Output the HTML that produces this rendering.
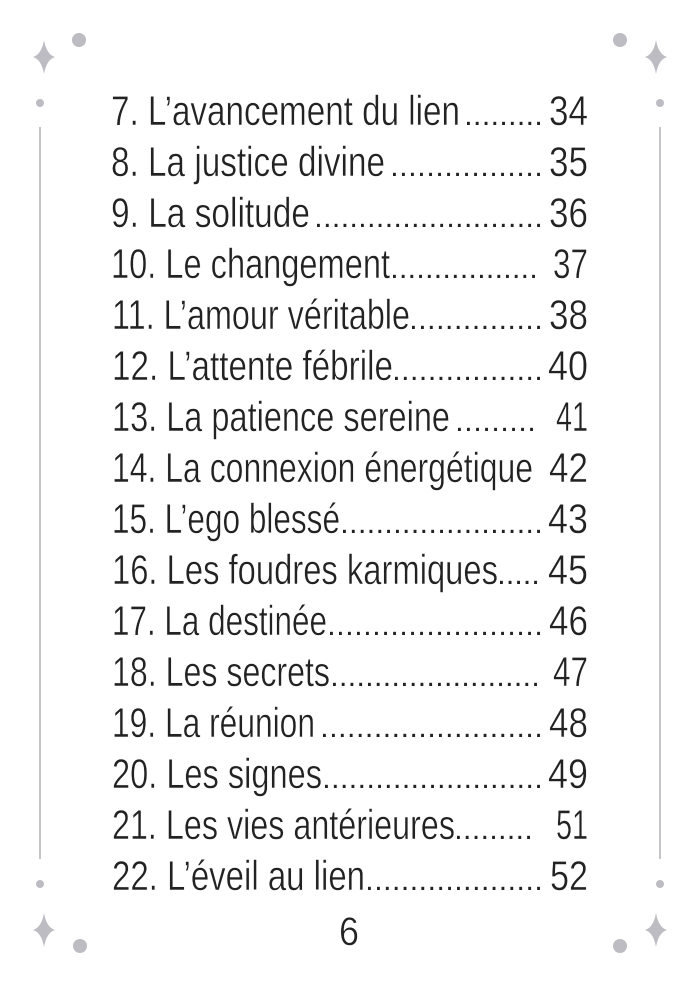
<!DOCTYPE html>
<html>
<head>
<meta charset="utf-8">
<style>
html,body{margin:0;padding:0;background:#fff;}
body{width:700px;height:989px;overflow:hidden;}
svg{display:block;}
.t{font-family:"Liberation Sans",sans-serif;font-size:42px;fill:#222;stroke:#fff;stroke-width:0.45px;}
.d{font-family:"Liberation Sans",sans-serif;font-size:30px;fill:#222;}
</style>
</head>
<body>
<svg width="700" height="989" viewBox="0 0 700 989" xmlns="http://www.w3.org/2000/svg">
<g fill="#bcbcc2">
  <path d="M44 40 Q46.5 54.5 55 57 Q46.5 59.5 44 74 Q41.5 59.5 33 57 Q41.5 54.5 44 40Z"/>
  <circle cx="79" cy="40" r="7"/>
  <circle cx="40" cy="103" r="4"/>
  <path d="M656 40 Q658.5 54.5 667 57 Q658.5 59.5 656 74 Q653.5 59.5 645 57 Q653.5 54.5 656 40Z"/>
  <circle cx="620" cy="40" r="7"/>
  <circle cx="660" cy="103" r="4"/>
  <path d="M44 913 Q46.5 927.5 55 930 Q46.5 932.5 44 947 Q41.5 932.5 33 930 Q41.5 927.5 44 913Z"/>
  <circle cx="80" cy="946" r="7"/>
  <circle cx="40" cy="884" r="4"/>
  <path d="M656 913 Q658.5 927.5 667 930 Q658.5 932.5 656 947 Q653.5 932.5 645 930 Q653.5 927.5 656 913Z"/>
  <circle cx="620" cy="946" r="7"/>
  <circle cx="660" cy="884" r="4"/>
</g>
<rect x="39" y="127" width="2" height="732" fill="#c4c4c8"/>
<rect x="659" y="127" width="2" height="732" fill="#c4c4c8"/>

<g class="t">
<text x="111" y="125" textLength="349" lengthAdjust="spacingAndGlyphs">7. L’avancement du lien</text>
<text x="111" y="176" textLength="274" lengthAdjust="spacingAndGlyphs">8. La justice divine</text>
<text x="111" y="227" textLength="199" lengthAdjust="spacingAndGlyphs">9. La solitude</text>
<text x="111" y="278" textLength="279" lengthAdjust="spacingAndGlyphs">10. Le changement</text>
<text x="112" y="329" textLength="298" lengthAdjust="spacingAndGlyphs">11. L’amour véritable</text>
<text x="112" y="380" textLength="281" lengthAdjust="spacingAndGlyphs">12. L’attente fébrile</text>
<text x="112" y="431" textLength="338" lengthAdjust="spacingAndGlyphs">13. La patience sereine</text>
<text x="112" y="482" textLength="421" lengthAdjust="spacingAndGlyphs">14. La connexion énergétique</text>
<text x="112" y="533" textLength="228" lengthAdjust="spacingAndGlyphs">15. L’ego blessé</text>
<text x="112" y="584" textLength="386" lengthAdjust="spacingAndGlyphs">16. Les foudres karmiques</text>
<text x="112" y="635" textLength="215" lengthAdjust="spacingAndGlyphs">17. La destinée</text>
<text x="112" y="686" textLength="218" lengthAdjust="spacingAndGlyphs">18. Les secrets</text>
<text x="112" y="737" textLength="203" lengthAdjust="spacingAndGlyphs">19. La réunion</text>
<text x="112" y="788" textLength="210" lengthAdjust="spacingAndGlyphs">20. Les signes</text>
<text x="112" y="839" textLength="343" lengthAdjust="spacingAndGlyphs">21. Les vies antérieures</text>
<text x="112" y="890" textLength="253" lengthAdjust="spacingAndGlyphs">22. L’éveil au lien</text>
</g>

<g class="t" text-anchor="end">
<text x="588" y="125" textLength="39" lengthAdjust="spacingAndGlyphs">34</text>
<text x="588" y="176" textLength="39" lengthAdjust="spacingAndGlyphs">35</text>
<text x="588" y="227" textLength="39" lengthAdjust="spacingAndGlyphs">36</text>
<text x="588" y="278" textLength="35" lengthAdjust="spacingAndGlyphs">37</text>
<text x="588" y="329" textLength="39" lengthAdjust="spacingAndGlyphs">38</text>
<text x="588" y="380" textLength="40" lengthAdjust="spacingAndGlyphs">40</text>
<text x="588" y="431" textLength="32" lengthAdjust="spacingAndGlyphs">41</text>
<text x="588" y="482" textLength="39" lengthAdjust="spacingAndGlyphs">42</text>
<text x="588" y="533" textLength="40" lengthAdjust="spacingAndGlyphs">43</text>
<text x="588" y="584" textLength="40" lengthAdjust="spacingAndGlyphs">45</text>
<text x="588" y="635" textLength="39" lengthAdjust="spacingAndGlyphs">46</text>
<text x="588" y="686" textLength="35" lengthAdjust="spacingAndGlyphs">47</text>
<text x="588" y="737" textLength="39" lengthAdjust="spacingAndGlyphs">48</text>
<text x="588" y="788" textLength="40" lengthAdjust="spacingAndGlyphs">49</text>
<text x="588" y="839" textLength="32" lengthAdjust="spacingAndGlyphs">51</text>
<text x="588" y="890" textLength="38" lengthAdjust="spacingAndGlyphs">52</text>
</g>

<g class="d">
<text x="464.3" y="125" textLength="78.4" lengthAdjust="spacing">.........</text>
<text x="390.3" y="176" textLength="152.4" lengthAdjust="spacing">.................</text>
<text x="314.3" y="227" textLength="228.4" lengthAdjust="spacing">..........................</text>
<text x="390.3" y="278" textLength="147.4" lengthAdjust="spacing">.................</text>
<text x="409.3" y="329" textLength="133.4" lengthAdjust="spacing">...............</text>
<text x="392.3" y="380" textLength="150.4" lengthAdjust="spacing">.................</text>
<text x="455.3" y="431" textLength="80.4" lengthAdjust="spacing">.........</text>
<text x="340.3" y="533" textLength="202.4" lengthAdjust="spacing">.......................</text>
<text x="497.3" y="584" textLength="42.4" lengthAdjust="spacing">.....</text>
<text x="327.3" y="635" textLength="215.4" lengthAdjust="spacing">........................</text>
<text x="330.3" y="686" textLength="209.4" lengthAdjust="spacing">........................</text>
<text x="320.3" y="737" textLength="222.4" lengthAdjust="spacing">.........................</text>
<text x="322.3" y="788" textLength="220.4" lengthAdjust="spacing">.........................</text>
<text x="454.3" y="839" textLength="78.4" lengthAdjust="spacing">.........</text>
<text x="365.3" y="890" textLength="177.4" lengthAdjust="spacing">....................</text>
</g>

<text class="t" x="339" y="945" style="font-size:40px" textLength="20" lengthAdjust="spacingAndGlyphs">6</text>
</svg>
</body>
</html>
